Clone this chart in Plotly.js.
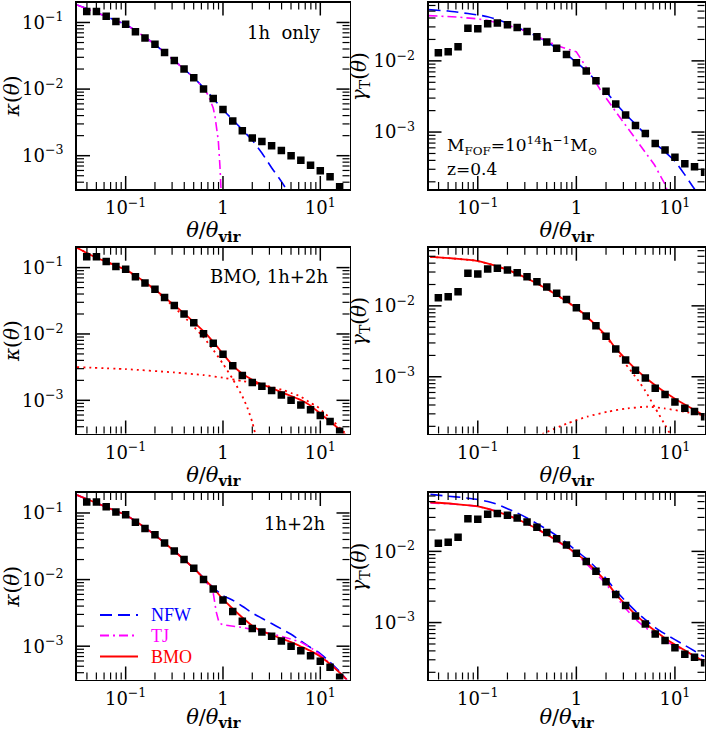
<!DOCTYPE html>
<html><head><meta charset="utf-8">
<script src="https://cdn.plot.ly/plotly-3.0.1.min.js"></script>
<style>html,body{margin:0;padding:0;background:#fff}</style>
</head><body><div id="chart" style="width:706px;height:731px"></div>
<script>
// ---------- simulation data (black squares) ----------
const thetaSim = [0.0398,0.0501,0.0631,0.0794,0.1,0.126,0.158,0.2,0.251,0.316,0.398,0.501,0.631,0.794,1,1.26,1.58,2.0,2.51,3.16,3.98,5.01,6.31,7.94,10,12.6,15.8,20.0];
const kappaSim = [0.146,0.146,0.124,0.1035,0.0944,0.0726,0.0585,0.0470,0.0353,0.0269,0.0200,0.0148,0.01005,0.00723,0.00495,0.00332,0.00236,0.00185,0.00163,0.00141,0.00120,0.00100,0.000853,0.000718,0.000592,0.000481,0.000341];
const gammaSim = [0.0130,0.0134,0.0158,0.0288,0.0282,0.0332,0.0340,0.0321,0.0294,0.0258,0.0219,0.0184,0.0151,0.0123,0.00938,0.00721,0.00525,0.00374,0.00247,0.00173,0.00124,0.000957,0.000690,0.000561,0.000442,0.000359,0.000325,0.000273];

// ---------- panel 1: kappa, 1h only ----------
const k1hNFWx = [0.0316,0.0398,0.0501,0.0631,0.0794,0.1,0.126,0.158,0.2,0.251,0.316,0.398,0.501,0.631,0.794,1,1.26,1.58,2.0,2.51,3.16,3.98,4.47];
const k1hNFWy = [0.183,0.162,0.141,0.123,0.107,0.093,0.076,0.060,0.047,0.0355,0.0269,0.020,0.0148,0.0105,0.00724,0.0049,0.00347,0.00245,0.0017,0.0011,0.00066,0.00041,0.000316];
const k1hTJx = [0.0316,0.0398,0.0501,0.0631,0.0794,0.1,0.126,0.158,0.2,0.251,0.316,0.398,0.501,0.631,0.708,0.794,0.828,0.862,0.895,0.931,0.955,0.977];
const k1hTJy = [0.183,0.162,0.141,0.123,0.107,0.093,0.076,0.060,0.047,0.0355,0.0269,0.020,0.0148,0.0104,0.0080,0.0052,0.00385,0.0027,0.0017,0.00069,0.00035,0.00015];

// ---------- panel 2: gamma, 1h only ----------
const g1hNFWx = [0.0316,0.05,0.0794,0.1,0.126,0.158,0.2,0.251,0.316,0.398,0.501,0.631,0.794,1,1.26,1.58,2.0,2.51,3.16,3.98,5.01,6.31,7.94,10,12.6,15.8,17.0];
const g1hNFWy = [0.0525,0.0501,0.0462,0.0442,0.0417,0.0380,0.0339,0.0295,0.0257,0.0221,0.0186,0.0151,0.0123,0.00955,0.00724,0.00525,0.00372,0.00251,0.00178,0.00129,0.000933,0.000692,0.000525,0.000389,0.000251,0.000158,0.000141];
const g1hTJx = [0.0316,0.0617,0.1,0.124,0.198,0.316,0.501,0.631,0.794,1.0,1.12,1.26,1.51,1.77,2.62,4.19,6.19,7.83,8.51];
const g1hTJy = [0.0432,0.0413,0.0389,0.0371,0.0321,0.0258,0.0191,0.0164,0.0148,0.0134,0.0105,0.00813,0.00531,0.00383,0.00178,0.000745,0.000347,0.000191,0.000141];

// ---------- panel 3: kappa, BMO 1h+2h ----------
const kBMOx = [0.0316,0.0398,0.0501,0.0631,0.0794,0.1,0.126,0.158,0.2,0.251,0.316,0.398,0.501,0.631,0.794,1,1.26,1.58,2.0,2.51,3.16,3.98,5.01,6.31,7.94,10,12.6,15.8,20.0];
const kBMOy = [0.200,0.166,0.141,0.123,0.107,0.0933,0.0759,0.0603,0.0468,0.0355,0.0272,0.0204,0.0151,0.0110,0.00759,0.00501,0.00335,0.00251,0.00204,0.00174,0.00153,0.00133,0.00116,0.00101,0.000832,0.000631,0.000479,0.000363,0.000269];
const kBMO1hx = [0.0316,0.0501,0.0794,0.1,0.126,0.158,0.2,0.251,0.316,0.398,0.501,0.631,0.794,1.0,1.26,1.58,1.78,2.0,2.14];
const kBMO1hy = [0.200,0.141,0.107,0.0923,0.075,0.0596,0.0457,0.0347,0.0251,0.0182,0.0129,0.00891,0.00575,0.00355,0.00209,0.00115,0.000776,0.000468,0.000316];
const kBMO2hx = [0.0316,0.1,0.316,0.631,1.0,1.58,2.06,3.16,4.19,5.01,6.21,7.94,9.2,11.2,13.6,15.8,18.7];
const kBMO2hy = [0.00316,0.00295,0.00263,0.0024,0.00219,0.00195,0.00183,0.00158,0.00142,0.00129,0.00115,0.000912,0.000813,0.000631,0.000482,0.000389,0.000302];

// ---------- panel 4: gamma, BMO 1h+2h ----------
const gBMOx = [0.0329,0.0562,0.0975,0.156,0.249,0.399,0.640,1.0,1.26,1.58,2.0,2.51,3.16,3.98,5.01,6.31,7.94,10,12.6,15.8,20.0];
const gBMOy = [0.0490,0.0465,0.0431,0.0362,0.0285,0.0207,0.0141,0.00930,0.00720,0.00530,0.00380,0.00251,0.00178,0.00129,0.000977,0.000759,0.000603,0.000490,0.000407,0.000339,0.000282];
const gBMO1hx = [0.0329,0.0562,0.0975,0.156,0.249,0.399,0.640,1.0,1.26,1.58,2.0,2.51,3.16,3.98,5.01,6.31,7.94,8.91,9.5];
const gBMO1hy = [0.0490,0.0465,0.0431,0.0362,0.0285,0.0207,0.0141,0.00925,0.00710,0.00515,0.00365,0.0024,0.00151,0.001,0.000631,0.000363,0.000209,0.000158,0.000138];
const gBMO2hx = [0.398,0.468,0.809,1.29,2.07,3.31,5.30,7.83,12.5,19.3];
const gBMO2hy = [0.000141,0.000159,0.00022,0.000274,0.000321,0.000358,0.000378,0.000358,0.000321,0.000288];

// ---------- panel 5: kappa, 1h+2h ----------
const k12NFWx = [0.0316,0.0398,0.0501,0.0631,0.0794,0.1,0.126,0.158,0.2,0.251,0.316,0.398,0.501,0.631,0.794,1,1.26,1.58,2.0,2.51,3.16,3.98,5.01,6.31,7.94,10,12.6,15.8,18.6];
const k12NFWy = [0.186,0.162,0.141,0.123,0.107,0.0933,0.0759,0.0603,0.0468,0.0355,0.0269,0.020,0.0148,0.0107,0.00759,0.00575,0.0049,0.00398,0.00316,0.00263,0.00219,0.00182,0.00151,0.0012,0.000955,0.000776,0.000575,0.000417,0.000316];
const k12TJx = [0.0316,0.0398,0.0501,0.0631,0.0794,0.1,0.126,0.158,0.2,0.251,0.316,0.398,0.501,0.631,0.741,0.794,0.851,0.912,1.0,1.58,2.51,3.98,6.31,7.94,10,12.6,15.8,19.1];
const k12TJy = [0.186,0.162,0.141,0.123,0.107,0.0933,0.0759,0.0603,0.0468,0.0355,0.0269,0.020,0.0148,0.0105,0.00759,0.00631,0.00331,0.00224,0.00209,0.00191,0.00166,0.00141,0.00115,0.000955,0.000741,0.000550,0.000407,0.000302];
const k12BMOx = [0.0316,0.0398,0.0501,0.0631,0.0794,0.1,0.126,0.158,0.2,0.251,0.316,0.398,0.501,0.631,0.794,1,1.26,1.58,2.0,2.51,3.16,3.98,5.01,6.31,7.94,10,12.6,15.8,18.7];
const k12BMOy = [0.186,0.162,0.141,0.123,0.107,0.0933,0.0759,0.0603,0.0468,0.0355,0.0269,0.020,0.0148,0.0105,0.00741,0.00508,0.00365,0.0027,0.00202,0.00168,0.00148,0.0013,0.00115,0.00099,0.00085,0.00070,0.00054,0.000400,0.000315];

// ---------- panel 6: gamma, 1h+2h ----------
const g12NFWx = [0.0331,0.05,0.0714,0.1,0.126,0.158,0.2,0.251,0.316,0.398,0.501,0.631,0.794,1,1.26,1.58,2.0,2.51,3.16,3.98,5.01,6.31,7.94,10,12.6,15.8,20.0];
const g12NFWy = [0.0631,0.0596,0.0569,0.0537,0.0501,0.0457,0.0398,0.0347,0.0295,0.0245,0.0204,0.0166,0.0132,0.0102,0.00794,0.00589,0.00417,0.00282,0.002,0.00145,0.0011,0.000851,0.000692,0.000575,0.000479,0.000398,0.000331];
const g12TJx = [0.0331,0.0562,0.1,0.158,0.251,0.398,0.631,1,1.58,2.0,2.51,3.16,3.98,5.01,6.31,7.94,10,12.6,15.8,19.5];
const g12TJy = [0.0479,0.0462,0.0427,0.0363,0.0285,0.0207,0.0141,0.00912,0.0049,0.00347,0.00234,0.00158,0.00112,0.000851,0.000676,0.00055,0.000468,0.000398,0.000339,0.000295];
const g12BMOx = gBMOx;
const g12BMOy = gBMOy;

// ---------- tick labels ----------
const xTickVals = [0.1, 1, 10];
const xTickText = ['10<sup>\u22121</sup>', '1', '10<sup>1</sup>'];
const kTickVals = [0.001, 0.01, 0.1];
const kTickText = ['10<sup>\u22123</sup>', '10<sup>\u22122</sup>', '10<sup>\u22121</sup>'];
const gTickVals = [0.001, 0.01];
const gTickText = ['10<sup>\u22123</sup>', '10<sup>\u22122</sup>'];
const legendNames = ['NFW', 'TJ', 'BMO'];

// minor tick positions (2..9 x decade)
function minorVals(k0, k1) { const v = []; for (let k = k0; k <= k1; k++) for (let m = 2; m <= 9; m++) v.push(m * Math.pow(10, k)); return v; }

const BLUE = '#0000ff', MAG = '#ff00ff', RED = '#ff0000';
const NFWline = {color: BLUE, width: 1.6, dash: '12px,6px'};
const TJline = {color: MAG, width: 1.6, dash: '9px,4px,2px,4px'};
const BMOline = {color: RED, width: 1.8};
const DOTline = {color: RED, width: 1.8, dash: '2px,4px'};

function pts(ax, y) {
  return {x: thetaSim.slice(0, y.length), y: y, xaxis: 'x' + ax, yaxis: 'y' + ax, mode: 'markers', type: 'scatter',
    marker: {symbol: 'square', size: 7.5, color: '#000'}, showlegend: false, hoverinfo: 'skip'};
}
function ln(ax, x, y, line, name, shape) {
  return {x: x, y: y, xaxis: 'x' + ax, yaxis: 'y' + ax, mode: 'lines', type: 'scatter', line: Object.assign({shape: shape || 'spline', smoothing: 0.6}, line),
    name: name || '', showlegend: false, hoverinfo: 'skip'};
}
const data = [
  ln('', k1hNFWx, k1hNFWy, NFWline, 'NFW'), ln('', k1hTJx, k1hTJy, TJline, 'TJ', 'linear'), pts('', kappaSim),
  ln(2, g1hNFWx, g1hNFWy, NFWline, 'NFW'), ln(2, g1hTJx, g1hTJy, TJline, 'TJ', 'linear'), pts(2, gammaSim),
  ln(3, kBMO1hx, kBMO1hy, DOTline, 'BMO 1h'), ln(3, kBMO2hx, kBMO2hy, DOTline, 'BMO 2h'), ln(3, kBMOx, kBMOy, BMOline, 'BMO'), pts(3, kappaSim),
  ln(4, gBMO1hx, gBMO1hy, DOTline, 'BMO 1h'), ln(4, gBMO2hx, gBMO2hy, DOTline, 'BMO 2h'), ln(4, gBMOx, gBMOy, BMOline, 'BMO'), pts(4, gammaSim),
  ln(5, k12NFWx, k12NFWy, NFWline, 'NFW'), ln(5, k12TJx, k12TJy, TJline, 'TJ', 'linear'), ln(5, k12BMOx, k12BMOy, BMOline, 'BMO'), pts(5, kappaSim),
  ln(6, g12NFWx, g12NFWy, NFWline, 'NFW'), ln(6, g12TJx, g12TJy, TJline, 'TJ'), ln(6, g12BMOx, g12BMOy, BMOline, 'BMO'), pts(6, gammaSim)
];

const W = 706, H = 731;
const colX = [[77 / W, 349.5 / W], [428.5 / W, 704.5 / W]];
const rowY = [[1 - 189 / H, 1 - 2.5 / H], [1 - 433.5 / H, 1 - 247.7 / H], [1 - 679.5 / H, 1 - 493 / H]];
const TICKFONT = {family: 'DejaVu Serif', size: 18, color: '#000'};
const XR = [-1.5, 1.3], KR = [-3.5, -0.7], GR = [-3.8, -1.18];

function xax(dom, anchor) {
  return {type: 'log', range: XR, domain: dom, anchor: anchor, showline: true, linecolor: '#000', linewidth: 1.8, mirror: true,
    ticks: '', tickmode: 'array', tickvals: xTickVals, ticktext: xTickText,
    tickfont: TICKFONT, ticklabelstandoff: 2, showgrid: false, zeroline: false,
    title: {text: '<i>θ</i>/<i>θ</i><sub><b>vir</b></sub>', font: {family: 'DejaVu Serif', size: 21, color: '#000'}, standoff: 0}};
}
function yax(dom, anchor, isK) {
  return {type: 'log', range: isK ? KR : GR, domain: dom, anchor: anchor, showline: true, linecolor: '#000', linewidth: 1.8, mirror: true,
    ticks: '', tickmode: 'array', tickvals: isK ? kTickVals : gTickVals, ticktext: isK ? kTickText : gTickText,
    tickfont: TICKFONT, ticklabelstandoff: 8, showgrid: false, zeroline: false,
    title: {text: isK ? '<i>κ</i>(<i>θ</i>)' : '&nbsp;&nbsp;&nbsp;&nbsp;&nbsp;&nbsp;<i>γ</i><sub>T</sub>(<i>θ</i>)', font: {family: 'DejaVu Serif', size: 20, color: '#000'}, standoff: 2}};
}

const layout = {
  width: W, height: H, margin: {l: 0, r: 0, t: 0, b: 0}, paper_bgcolor: '#fff', plot_bgcolor: '#fff',
  font: {family: 'DejaVu Serif', color: '#000'},
  xaxis: xax(colX[0], 'y'), yaxis: yax(rowY[0], 'x', true),
  xaxis2: xax(colX[1], 'y2'), yaxis2: yax(rowY[0], 'x2', false),
  xaxis3: xax(colX[0], 'y3'), yaxis3: yax(rowY[1], 'x3', true),
  xaxis4: xax(colX[1], 'y4'), yaxis4: yax(rowY[1], 'x4', false),
  xaxis5: xax(colX[0], 'y5'), yaxis5: yax(rowY[2], 'x5', true),
  xaxis6: xax(colX[1], 'y6'), yaxis6: yax(rowY[2], 'x6', false),
  showlegend: false
};

// inside tick marks on all four sides of every panel (major + minor), placed in axis-domain units
const panelPx = [[272.5, 186.5], [276, 186.5], [272.5, 185.8], [276, 185.8], [272.5, 186.5], [276, 186.5]];
const isKappa = [true, false, true, false, true, false];
function tickShapes(i) {
  const base = i === 1 ? '' : String(i);
  const xr = 'x' + base + ' domain', yr = 'y' + base + ' domain';
  const pw = panelPx[i - 1][0], ph = panelPx[i - 1][1];
  const yR = isKappa[i - 1] ? KR : GR;
  const out = [];
  const addX = (v, len, w) => {
    const f = (Math.log10(v) - XR[0]) / (XR[1] - XR[0]);
    if (f <= 0.002 || f >= 0.998) return;
    const h = len / ph;
    out.push({type: 'line', xref: xr, yref: yr, x0: f, x1: f, y0: 0, y1: h, line: {color: '#000', width: w}});
    out.push({type: 'line', xref: xr, yref: yr, x0: f, x1: f, y0: 1, y1: 1 - h, line: {color: '#000', width: w}});
  };
  const addY = (v, len, w) => {
    const f = (Math.log10(v) - yR[0]) / (yR[1] - yR[0]);
    if (f <= 0.002 || f >= 0.998) return;
    const l = len / pw;
    out.push({type: 'line', xref: xr, yref: yr, x0: 0, x1: l, y0: f, y1: f, line: {color: '#000', width: w}});
    out.push({type: 'line', xref: xr, yref: yr, x0: 1, x1: 1 - l, y0: f, y1: f, line: {color: '#000', width: w}});
  };
  xTickVals.forEach(v => addX(v, 13, 1.5));
  minorVals(-2, 1).forEach(v => addX(v, 7, 1.2));
  (isKappa[i - 1] ? kTickVals : gTickVals).forEach(v => addY(v, 13, 1.5));
  minorVals(-5, -1).forEach(v => addY(v, 7, 1.2));
  return out;
}
let shapes = [];
for (let i = 1; i <= 6; i++) shapes = shapes.concat(tickShapes(i));

// legend drawn in the lower-left panel
const legY = [615, 635.5, 656.5];
const legColors = [BLUE, MAG, RED];
const legDash = ['12px,6px', '9px,4px,2px,4px', 'solid'];
legY.forEach((yy, i) => shapes.push({type: 'line', xref: 'paper', yref: 'paper', x0: 100 / W, x1: 138 / W, y0: 1 - yy / H, y1: 1 - yy / H,
  line: {color: legColors[i], width: 1.8, dash: legDash[i]}}));
layout.shapes = shapes;
const legAnn = legY.map((yy, i) => ({text: legendNames[i], xref: 'paper', yref: 'paper', x: 149 / W, y: 1 - yy / H, xanchor: 'left', yanchor: 'middle',
  showarrow: false, font: {family: 'Liberation Serif', size: 18, color: legColors[i]}}));

const ANNF = {family: 'DejaVu Serif', size: 18, color: '#000'};
layout.annotations = legAnn.concat([
  {text: '1h  only', xref: 'paper', yref: 'paper', x: 323 / W, y: 1 - 32 / H, xanchor: 'right', yanchor: 'middle', showarrow: false, font: ANNF},
  {text: 'BMO, 1h+2h', xref: 'paper', yref: 'paper', x: 330 / W, y: 1 - 276.7 / H, xanchor: 'right', yanchor: 'middle', showarrow: false, font: ANNF},
  {text: '1h+2h', xref: 'paper', yref: 'paper', x: 328 / W, y: 1 - 523 / H, xanchor: 'right', yanchor: 'middle', showarrow: false, font: ANNF},
  {text: 'M<sub>FOF</sub>=10<sup>14</sup>h<sup>\u22121</sup>M<sub>\u2299</sub>', xref: 'paper', yref: 'paper', x: 445 / W, y: 1 - 146 / H, xanchor: 'left', yanchor: 'middle', showarrow: false, font: {family: 'DejaVu Serif', size: 17, color: '#000'}},
  {text: 'z=0.4', xref: 'paper', yref: 'paper', x: 445 / W, y: 1 - 169 / H, xanchor: 'left', yanchor: 'middle', showarrow: false, font: {family: 'DejaVu Serif', size: 17, color: '#000'}}
]);
Plotly.newPlot('chart', data, layout, {staticPlot: true, displayModeBar: false});
</script>
</body></html>
